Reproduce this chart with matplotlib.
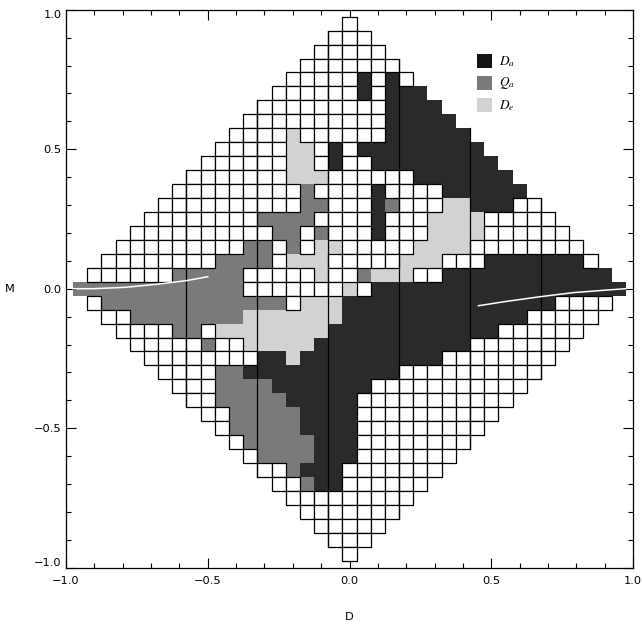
import matplotlib
matplotlib.use("Agg")
import matplotlib.pyplot as plt
from matplotlib.patches import Rectangle
from matplotlib.collections import PatchCollection

# cell map, one string per row from M = 0.95 (top) down to M = -0.95,
# each row centred on D = 0.  '.' empty cell, 'D' Da, 'Q' Qa, 'E' De
grid_rows = [
    ".",
    "...",
    ".....",
    ".......",
    ".....D.D.",
    "......D.DDD",
    ".........DDDD",
    "..........DDDDD",
    "....E......DDDDDD",
    ".....EE.D.DDDDDDDDD",
    "......EE.D..DDDDDDDDD",
    ".......EEE......DDDDDDD",
    ".........Q....D....DDDDDD",
    "..........QQ...DQ...EEDDD..",
    "........QQQQ....D...EEEE.....",
    "..........QQ.Q...D...EEEE......",
    ".........QQ.Q.EE.....EEEE........",
    "........QQQQ.EEE.....EEE...DDDDDDD.",
    "......QQQQQ.....E..QEEE..DDDDDDDDDDDD",
    "QQQQQQQQQQQQ.......E.DDDDDDDDDDDDDDDDDD",
    ".QQQQQQQQQQQQQ.EEEDDDDDDDDDDDDDDD....",
    "..QQQQQQQQEEEEEEEDDDDDDDDDDDDD.....",
    "....QQ.EEEEEEEEDDDDDDDDDDDD......",
    ".....Q..EEEEEDDDDDDDDDDD.......",
    "........DDEDDDDDDDDDD........",
    "....QQDDDDDDDDDDD..........",
    "...QQQQDDDDDDD...........",
    "..QQQQQDDDDD...........",
    "..QQQQQDDDD..........",
    ".QQQQQDDDD.........",
    ".QQQQQDDD........",
    ".QQQQDDD.......",
    "..QDDD.......",
    "..QDD......",
    ".........",
    ".......",
    ".....",
    "...",
    ".",
]

cell_colors = {"D": "#2a2a2a", "Q": "#7a7a7a", "E": "#d2d2d2"}

legend_labels = ["$D_a$", "$Q_a$", "$D_e$"]
legend_colors = ["#141414", "#7a7a7a", "#d2d2d2"]

divider_d = [-0.575, -0.325, -0.075, 0.175, 0.425, 0.675]

left_curve_d = [-0.975, -0.905, -0.79, -0.67, -0.575, -0.50]
left_curve_m = [0.0, 0.0, 0.005, 0.017, 0.029, 0.043]
right_curve_d = [0.455, 0.55, 0.67, 0.79, 0.905, 0.975]
right_curve_m = [-0.061, -0.046, -0.029, -0.014, -0.005, 0.0]

x_ticks = [-1.0, -0.5, 0.0, 0.5, 1.0]
y_ticks = [-1.0, -0.5, 0.0, 0.5, 1.0]
tick_labels = ["\u22121.0", "\u22120.5", "0.0", "0.5", "1.0"]

CELL = 0.05

plt.rcParams["font.family"] = ["DejaVu Sans"]
plt.rcParams["mathtext.fontset"] = "stix"

fig = plt.figure(figsize=(6.43, 6.26), dpi=100)
ax = fig.add_axes([66 / 643, 1 - 567.7 / 626, 567 / 643, 558 / 626])

colored, empty = [], []
face = []
n_rows = len(grid_rows)
for r, row in enumerate(grid_rows):
    m = CELL * ((n_rows - 1) / 2 - r)
    half = (len(row) - 1) / 2
    for k, code in enumerate(row):
        d = CELL * (k - half)
        rect = Rectangle((d - CELL / 2, m - CELL / 2), CELL, CELL)
        if code == ".":
            empty.append(rect)
        else:
            colored.append(rect)
            face.append(cell_colors[code])

ax.add_collection(PatchCollection(colored, facecolor=face, edgecolor="none", zorder=1))
ax.add_collection(PatchCollection(empty, facecolor="white", edgecolor="black",
                                  linewidth=0.9, zorder=2))

for d in divider_d:
    top = 1.0 - abs(d)
    ax.plot([d, d], [-top, top], color="black", lw=0.9, zorder=3)

ax.plot(left_curve_d, left_curve_m, color="white", lw=1.1, zorder=4)
ax.plot(right_curve_d, right_curve_m, color="white", lw=1.1, zorder=4)

# legend boxes
for n, (lab, col) in enumerate(zip(legend_labels, legend_colors)):
    yc = 0.815 - 0.079 * n
    ax.add_patch(Rectangle((0.45, yc - 0.025), 0.051, 0.051, facecolor=col,
                           edgecolor="none", zorder=5))
    ax.text(0.527, yc, lab, fontsize=9.5, va="center", ha="left", zorder=5)

ax.set_xlim(-1, 1)
ax.set_ylim(-1, 1)
ax.set_xticks(x_ticks)
ax.set_xticklabels(tick_labels)
ax.set_yticks(y_ticks)
ax.set_yticklabels(tick_labels)
ax.set_xticks([t / 10 for t in range(-10, 11)], minor=True)
ax.set_yticks([t / 10 for t in range(-10, 11)], minor=True)
ax.tick_params(which="both", direction="in", top=True, right=True, width=0.8,
               labelsize=8.2)
ax.tick_params(which="major", length=7)
ax.tick_params(which="minor", length=3.6)
ax.tick_params(axis="x", which="major", pad=6)
ax.tick_params(axis="y", which="major", pad=3)
for side in ax.spines.values():
    side.set_linewidth(0.9)

ylabs = ax.get_yticklabels()
ylabs[0].set_va("bottom")
ylabs[-1].set_va("top")

fig.text(349 / 643, 1 - 617 / 626, "D", ha="center", va="center", fontsize=8.2)
fig.text(10 / 643, 1 - 289 / 626, "M", ha="center", va="center", fontsize=8.2)

fig.savefig("out.png", dpi=100)
